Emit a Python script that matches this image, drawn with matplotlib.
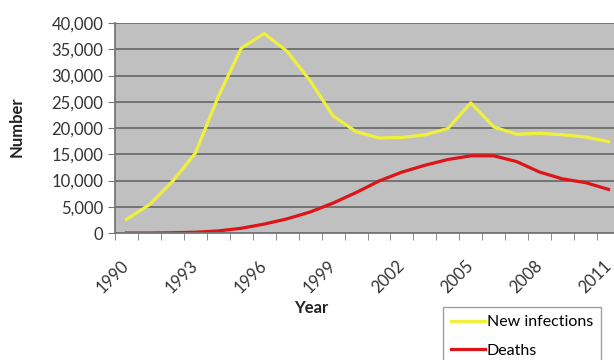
import matplotlib
matplotlib.use('Agg')
import matplotlib.pyplot as plt
from matplotlib.ticker import FuncFormatter

# values
years = list(range(1990, 2012))
new_infections = [2600, 5400, 9800, 15200, 26000, 35200, 38000, 34600, 29000, 22300,
                  19300, 18100, 18200, 18700, 19900, 24800, 20200, 18800, 19000, 18700,
                  18300, 17400]
deaths = [0, 0, 50, 150, 400, 900, 1700, 2700, 4000, 5700,
          7700, 9900, 11600, 12900, 14000, 14700, 14700, 13600, 11600, 10300,
          9600, 8300]
tick_years = years[::3]

plt.rcParams['font.family'] = ['Lato', 'DejaVu Sans']

fig = plt.figure(figsize=(6.14, 3.6), dpi=100)
ax = fig.add_axes([115 / 614, 127 / 360, 505 / 614, 210 / 360])
ax.set_facecolor('#c0c0c0')

x = list(range(len(years)))
ax.plot(x, new_infections, color='#f0f03c', lw=2.3, label='New infections')
ax.plot(x, deaths, color='#dd1418', lw=2.3, label='Deaths')

ax.set_xlim(-0.5, len(years) - 0.5)
ax.set_ylim(0, 40000)
ax.set_yticks(range(0, 40001, 5000))
ax.yaxis.set_major_formatter(FuncFormatter(lambda v, p: f'{int(v):,}'))
ax.grid(axis='y', color='#6e6e6e', lw=1.3)
ax.set_axisbelow(True)

ax.set_xticks([years.index(y) for y in tick_years])
ax.set_xticklabels([str(y) for y in tick_years], rotation=45, ha='right', va='center',
                   rotation_mode='anchor')
ax.set_xticks([i - 0.5 for i in range(len(years) + 1)], minor=True)
ax.tick_params(axis='x', which='major', length=0, pad=22, labelsize=12)
ax.tick_params(axis='x', which='minor', length=5, color='#777777', direction='out')
ax.tick_params(axis='y', length=5, color='#777777', labelsize=12, labelcolor='#333333')
ax.tick_params(axis='x', labelcolor='#333333')

for s in ['top', 'right']:
    ax.spines[s].set_visible(False)
for s in ['left', 'bottom']:
    ax.spines[s].set_color('#777777')
    ax.spines[s].set_linewidth(1.3)

fig.text(17 / 614, 1 - 127 / 360, 'Number', fontweight='bold', fontsize=12,
         rotation=90, ha='center', va='center', color='#222222')
fig.text(311 / 614, 1 - 308 / 360, 'Year', fontweight='bold', fontsize=12,
         ha='center', va='center', color='#222222')

leg = fig.legend(loc='upper left', bbox_to_anchor=(443 / 614, 1 - 307 / 360),
                 frameon=True, fancybox=False, fontsize=11.5, handlelength=2.1,
                 handletextpad=0.15, borderpad=0.5, labelspacing=0.9, borderaxespad=0)
leg.get_frame().set_edgecolor('#888888')
leg.get_frame().set_linewidth(1)

fig.savefig('out.png', dpi=100)
